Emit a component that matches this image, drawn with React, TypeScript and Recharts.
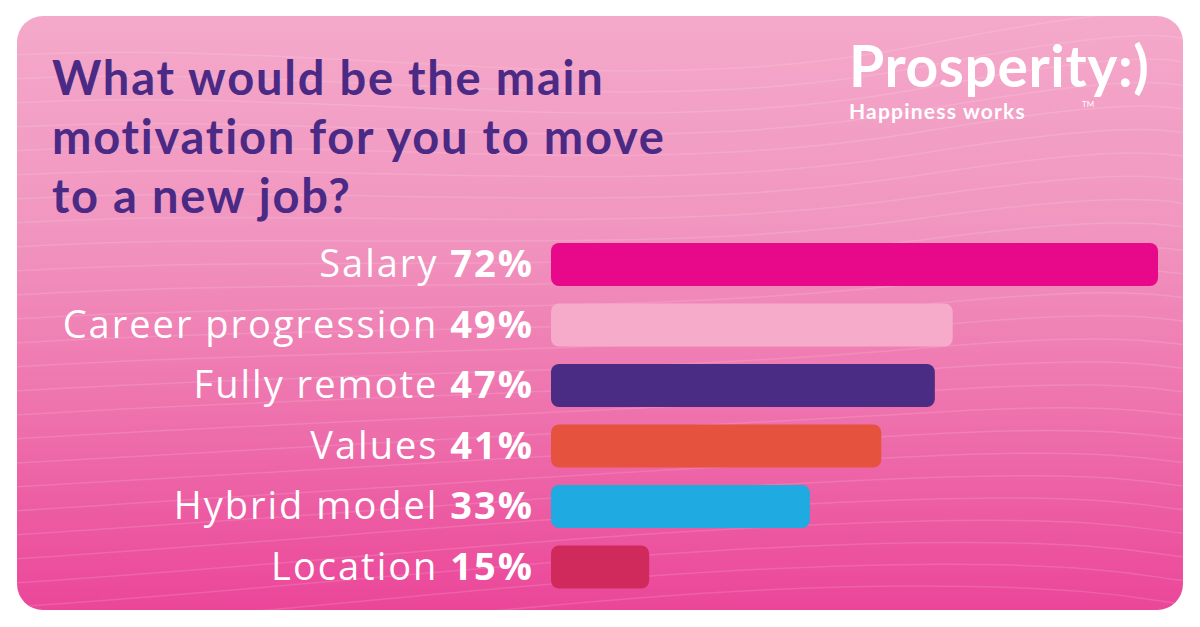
import { BarChart, Bar, XAxis, YAxis, Cell } from "recharts";

const motivations = ["Salary", "Career progression", "Fully remote", "Values", "Hybrid model", "Location"];
const shares = [72, 49, 47, 41, 33, 15];
const barColors = ["#e8098a", "#f6abcb", "#4b2c84", "#e5533f", "#1faae1", "#d02a5c"];

const titleLines = ["What would be the main", "motivation for you to move", "to a new job?"];

const data = motivations.map((name, i) => ({ name, value: shares[i] }));

const TITLE_FONT = "Lato, sans-serif";
const LABEL_FONT = "'Open Sans', Lato, sans-serif";

// faint decorative waves on the card background
const waveOffsets = Array.from({ length: 26 }, (_, i) => i * 24);

const MotivationTick = (props: any) => {
  const { x, y, payload } = props;
  const row = data.find(d => d.name === payload.value);
  return (
    <text x={x} y={y} dy={13} textAnchor="end" fill="#ffffff" fontFamily={LABEL_FONT} fontSize={38}
      letterSpacing={2}>
      <tspan>{payload.value} </tspan>
      <tspan fontWeight={700}>{row ? row.value : ""}%</tspan>
    </text>
  );
};

export default function App() {
  return <>
    <style>{`body{margin:0;background:#fff}`}</style>
    <div style={{ position: "relative", width: 1200, height: 627, background: "#ffffff", overflow: "hidden" }}>
      <div style={{
        position: "absolute", left: 17, top: 16, width: 1166, height: 594, borderRadius: 26, overflow: "hidden",
        background: "linear-gradient(180deg, #f4a9ca 0%, #f196c0 35%, #ee74ae 65%, #eb4699 100%)"
      }}>
        <svg width={1166} height={594} style={{ position: "absolute", left: 0, top: 0 }}>
          {waveOffsets.map(o => (
            <path key={o}
              d={`M -20 ${40 + o} C 300 ${20 + o}, 600 ${90 + o * 0.8}, 900 ${30 + o * 0.9} S 1150 ${10 + o}, 1200 ${o * 0.95}`}
              fill="none" stroke="#ffffff" strokeOpacity={0.13} strokeWidth={1.5} />
          ))}
        </svg>
      </div>
      <div style={{
        position: "absolute", left: 52, top: 48, fontFamily: TITLE_FONT, fontWeight: 700, fontSize: 47,
        lineHeight: "59px", letterSpacing: 1.8, color: "#4a2a85"
      }}>
        {titleLines.map(l => <div key={l}>{l}</div>)}
      </div>
      <div style={{
        position: "absolute", left: 849, top: 36, color: "#ffffff", fontFamily: TITLE_FONT, fontWeight: 700,
        fontSize: 57, lineHeight: "58px", letterSpacing: 0.6
      }}>Prosperity:)</div>
      <div style={{
        position: "absolute", left: 849, top: 100, color: "#ffffff", fontFamily: TITLE_FONT, fontWeight: 700,
        fontSize: 21, lineHeight: "22px", letterSpacing: 1.2
      }}>Happiness works</div>
      <div style={{
        position: "absolute", left: 1082, top: 100, color: "#ffffff", fontFamily: TITLE_FONT,
        fontSize: 8, lineHeight: "8px"
      }}>TM</div>
      <div style={{ position: "absolute", left: 0, top: 0 }}>
        <BarChart width={1200} height={627} data={data} layout="vertical"
          margin={{ top: 234, right: 42, bottom: 30, left: 0 }}>
          <XAxis type="number" domain={[4, 72]} allowDataOverflow hide />
          <YAxis type="category" dataKey="name" width={551} axisLine={false} tickLine={false}
            tickMargin={11} tick={<MotivationTick />} interval={0} />
          <Bar dataKey="value" barSize={43} radius={8} isAnimationActive={false}>
            {data.map((d, i) => <Cell key={d.name} fill={barColors[i]} />)}
          </Bar>
        </BarChart>
      </div>
    </div>
  </>;
}
